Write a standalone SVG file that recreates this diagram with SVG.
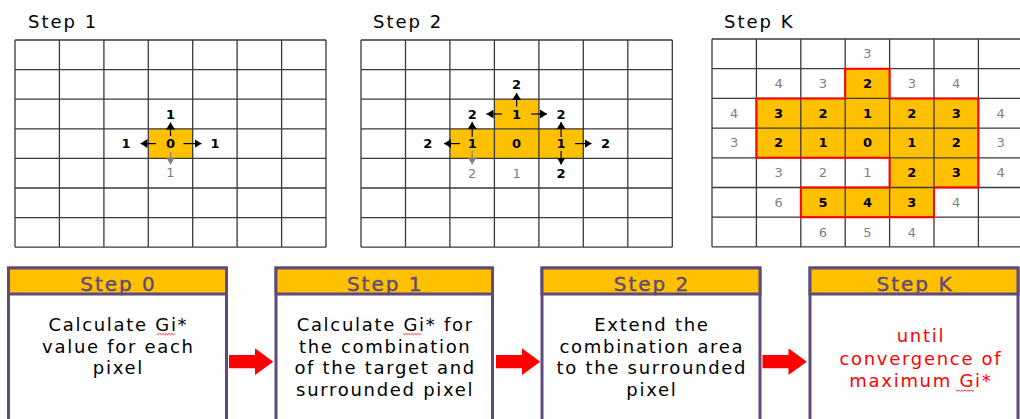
<svg xmlns="http://www.w3.org/2000/svg" width="1020" height="419" viewBox="0 0 1020 419">
<style>
.title{font-family:"DejaVu Sans",sans-serif;font-size:18px;letter-spacing:2px;fill:#000}
.grid{stroke:#3a3a3a;stroke-width:1.3;fill:none}
.hl{fill:#FFC000}
.nb{font-family:"DejaVu Sans",sans-serif;font-size:13px;font-weight:bold;fill:#000;text-anchor:middle}
.ng{font-family:"DejaVu Sans",sans-serif;font-size:13px;fill:#808080;text-anchor:middle}
.ab{stroke:#000;stroke-width:1.2;fill:none;marker-end:url(#hb)}
.ag{stroke:#808080;stroke-width:1.2;fill:none;marker-end:url(#hg)}
.box{fill:#fff;stroke:#604A7B;stroke-width:3}
.hdr{fill:#FFC000;stroke:#604A7B;stroke-width:3}
.htx{font-family:"DejaVu Sans",sans-serif;font-size:20px;letter-spacing:2px;fill:#604A7B;stroke:#604A7B;stroke-width:0.4;text-anchor:middle}
.body{font-family:"DejaVu Sans",sans-serif;font-size:18px;letter-spacing:1.7px;fill:#000;text-anchor:middle}
.red{fill:#FF0000}
.flow{fill:#FF0000}
.squig{stroke:#FF0000;stroke-width:0.8;fill:none}
</style>
<defs>
<marker id="hb" markerUnits="userSpaceOnUse" markerWidth="8" markerHeight="9" refX="7" refY="4.5" orient="auto"><path d="M0,0 L7,4.5 L0,9 Z" fill="#000"/></marker>
<marker id="hg" markerUnits="userSpaceOnUse" markerWidth="8" markerHeight="9" refX="7" refY="4.5" orient="auto"><path d="M0,0 L7,4.5 L0,9 Z" fill="#808080"/></marker>
<path id="arrow" d="M0,0 L26,0 L26,-6.7 L44.3,6.7 L26,20 L26,13.3 L0,13.3 Z"/>
<path id="wave" d="M0,0 l1.5,1.2 l1.5,-1.2 l1.5,1.2 l1.5,-1.2 l1.5,1.2 l1.5,-1.2 l1.5,1.2 l1.5,-1.2 l1.5,1.2 l1.5,-1.2 l1.5,1.2 l1.5,-1.2"/>
</defs>
<rect width="1020" height="419" fill="#fff"/>

<!-- Step 1 grid -->
<g id="grid-step1">
<text class="title" x="28" y="28">Step 1</text>
<rect class="hl" x="148.3" y="128.8" width="44.4" height="29.6"/>
<path class="grid" d="M15,40V247.2M59.4,40V247.2M103.9,40V247.2M148.3,40V247.2M192.7,40V247.2M237.1,40V247.2M281.6,40V247.2M326,40V247.2M15,40H326M15,69.6H326M15,99.2H326M15,128.8H326M15,158.4H326M15,188H326M15,217.6H326M15,247.2H326"/>
<path class="ab" d="M170.5,136V122.5"/>
<path class="ab" d="M156,143.6H140.5"/>
<path class="ab" d="M183.5,143.6H201.5"/>
<path class="ag" d="M170.5,152V164.5"/>
<text class="nb" x="170.5" y="148">0</text>
<text class="nb" x="170.5" y="118.5">1</text>
<text class="nb" x="126" y="148">1</text>
<text class="nb" x="215" y="148">1</text>
<text class="ng" x="170.5" y="176.5">1</text>
</g>

<!-- Step 2 grid -->
<g id="grid-step2">
<text class="title" x="373" y="28">Step 2</text>
<rect class="hl" x="494.4" y="99.2" width="44.5" height="29.6"/>
<rect class="hl" x="449.9" y="128.8" width="133.4" height="29.6"/>
<path class="grid" d="M361,40V247.2M405.5,40V247.2M449.9,40V247.2M494.4,40V247.2M538.9,40V247.2M583.3,40V247.2M627.8,40V247.2M672.3,40V247.2M361,40H672.3M361,69.6H672.3M361,99.2H672.3M361,128.8H672.3M361,158.4H672.3M361,188H672.3M361,217.6H672.3M361,247.2H672.3"/>
<path class="ab" d="M516.6,106.5V93"/>
<path class="ab" d="M502,114H486.5"/>
<path class="ab" d="M531,114H547"/>
<path class="ab" d="M460,143.6H444"/>
<path class="ab" d="M472.2,137V122"/>
<path class="ag" d="M472.2,151V164.5"/>
<path class="ab" d="M575,143.6H591.5"/>
<path class="ab" d="M561.1,137V122"/>
<path class="ab" d="M561.1,151V164.5"/>
<text class="nb" x="516.6" y="118.5">1</text>
<text class="nb" x="472.2" y="118.5">2</text>
<text class="nb" x="561.1" y="118.5">2</text>
<text class="nb" x="516.6" y="89">2</text>
<text class="nb" x="427.7" y="148">2</text>
<text class="nb" x="472.2" y="148">1</text>
<text class="nb" x="516.6" y="148">0</text>
<text class="nb" x="561.1" y="148">1</text>
<text class="nb" x="605.6" y="148">2</text>
<text class="ng" x="472.2" y="178">2</text>
<text class="ng" x="516.6" y="178">1</text>
<text class="nb" x="561.1" y="178">2</text>
</g>

<!-- Step K grid -->
<g id="grid-stepK">
<text class="title" x="724" y="28">Step K</text>
<rect class="hl" x="845.2" y="68.7" width="44.4" height="29.7"/>
<rect class="hl" x="756.4" y="98.4" width="222" height="59.4"/>
<rect class="hl" x="889.6" y="157.8" width="88.8" height="29.7"/>
<rect class="hl" x="800.8" y="187.5" width="133.2" height="29.7"/>
<path class="grid" d="M712,39V246.9M756.4,39V246.9M800.8,39V246.9M845.2,39V246.9M889.6,39V246.9M934,39V246.9M978.4,39V246.9M712,39H1020M712,68.7H1020M712,98.4H1020M712,128.1H1020M712,157.8H1020M712,187.5H1020M712,217.2H1020M712,246.9H1020"/>
<path d="M845.2,68.7H889.6V98.4H978.4V187.5H934V217.2H800.8V187.5H889.6V157.8H756.4V98.4H845.2Z" fill="none" stroke="#FF0000" stroke-width="2"/>
<text class="ng" x="867.4" y="58.3">3</text>
<text class="ng" x="778.6" y="88">4</text>
<text class="ng" x="823" y="88">3</text>
<text class="nb" x="867.4" y="88">2</text>
<text class="ng" x="911.8" y="88">3</text>
<text class="ng" x="956.2" y="88">4</text>
<text class="ng" x="734.2" y="117.7">4</text>
<text class="nb" x="778.6" y="117.7">3</text>
<text class="nb" x="823" y="117.7">2</text>
<text class="nb" x="867.4" y="117.7">1</text>
<text class="nb" x="911.8" y="117.7">2</text>
<text class="nb" x="956.2" y="117.7">3</text>
<text class="ng" x="1000.6" y="117.7">4</text>
<text class="ng" x="734.2" y="147.4">3</text>
<text class="nb" x="778.6" y="147.4">2</text>
<text class="nb" x="823" y="147.4">1</text>
<text class="nb" x="867.4" y="147.4">0</text>
<text class="nb" x="911.8" y="147.4">1</text>
<text class="nb" x="956.2" y="147.4">2</text>
<text class="ng" x="1000.6" y="147.4">3</text>
<text class="ng" x="778.6" y="177.1">3</text>
<text class="ng" x="823" y="177.1">2</text>
<text class="ng" x="867.4" y="177.1">1</text>
<text class="nb" x="911.8" y="177.1">2</text>
<text class="nb" x="956.2" y="177.1">3</text>
<text class="ng" x="1000.6" y="177.1">4</text>
<text class="ng" x="778.6" y="206.8">6</text>
<text class="nb" x="823" y="206.8">5</text>
<text class="nb" x="867.4" y="206.8">4</text>
<text class="nb" x="911.8" y="206.8">3</text>
<text class="ng" x="956.2" y="206.8">4</text>
<text class="ng" x="823" y="236.5">6</text>
<text class="ng" x="867.4" y="236.5">5</text>
<text class="ng" x="911.8" y="236.5">4</text>
</g>

<!-- Flow boxes -->
<g id="box-step0">
<rect class="box" x="8.5" y="268" width="218" height="170"/>
<rect class="hdr" x="8.5" y="268" width="218" height="26"/>
<text class="htx" x="118.5" y="291">Step 0</text>
<text class="body" x="118.4" y="331">Calculate Gi*</text>
<text class="body" x="118.4" y="352.7">value for each</text>
<text class="body" x="118.4" y="374.3">pixel</text>
<use href="#wave" class="squig" x="157" y="333.5"/>
</g>
<g id="box-step1">
<rect class="box" x="276" y="268" width="216.5" height="170"/>
<rect class="hdr" x="276" y="268" width="216.5" height="26"/>
<text class="htx" x="385.2" y="291">Step 1</text>
<text class="body" x="385.2" y="331">Calculate Gi* for</text>
<text class="body" x="385.2" y="352.7">the combination</text>
<text class="body" x="385.2" y="374.3">of the target and</text>
<text class="body" x="385.2" y="396">surrounded pixel</text>
<use href="#wave" class="squig" x="403" y="333.5"/>
</g>
<g id="box-step2">
<rect class="box" x="542" y="268" width="218" height="170"/>
<rect class="hdr" x="542" y="268" width="218" height="26"/>
<text class="htx" x="652" y="291">Step 2</text>
<text class="body" x="651.9" y="331">Extend the</text>
<text class="body" x="651.9" y="352.7">combination  area</text>
<text class="body" x="651.9" y="374.3">to the surrounded</text>
<text class="body" x="651.9" y="396">pixel</text>
</g>
<g id="box-stepK">
<rect class="box" x="810" y="268" width="208" height="170"/>
<rect class="hdr" x="810" y="268" width="208" height="26"/>
<text class="htx" x="915" y="291">Step K</text>
<text class="body red" x="920.9" y="342.3">until</text>
<text class="body red" x="920.9" y="364.8">convergence of</text>
<text class="body red" x="920.9" y="387.3">maximum Gi*</text>
<use href="#wave" class="squig" x="956" y="390"/>
</g>

<g id="connectors">
<use href="#arrow" class="flow" transform="translate(229,355)"/>
<use href="#arrow" class="flow" transform="translate(496,355)"/>
<use href="#arrow" class="flow" transform="translate(762.5,355)"/>
</g>
</svg>
